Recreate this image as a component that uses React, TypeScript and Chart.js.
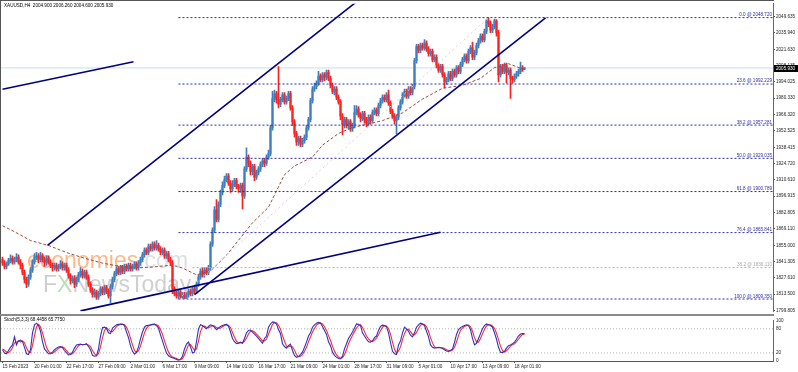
import React, { useEffect, useRef } from 'react';
import { Chart, registerables } from 'chart.js';
Chart.register(...registerables);

const FONT = "'Liberation Sans', Arial, sans-serif";

const title = 'XAUUSD,H4  2004.900 2006.260 2004.600 2005.930';
const stochTitle = 'Stoch(5,3,3) 68.4458 65.7750';

const opens = [
  1843,1840,1837,1839,1842,1844,1841,1843,1845,1841,
  1838,1832,1826,1822,1828,1834,1841,1845,1846,1843,
  1846,1843,1840,1844,1841,1838,1836,1838,1835,1837,
  1839,1836,1838,1834,1829,1825,1827,1822,1826,1830,
  1833,1829,1832,1828,1822,1817,1813,1815,1811,1814,
  1818,1815,1819,1816,1812,1820,1826,1831,1835,1832,
  1836,1833,1837,1835,1838,1835,1837,1839,1836,1840,
  1843,1847,1851,1849,1854,1852,1856,1853,1855,1852,
  1849,1851,1846,1848,1843,1840,1818,1814,1812,1815,
  1811,1813,1810,1813,1816,1814,1818,1816,1822,1828,
  1833,1830,1834,1832,1836,1856,1868,1885,1877,1890,
  1900,1906,1911,1914,1908,1903,1907,1910,1905,1903,
  1906,1897,1920,1930,1925,1918,1922,1913,1917,1920,
  1924,1927,1925,1930,1933,1955,1980,1984,1979,1975,
  1979,1983,1977,1980,1984,1972,1960,1950,1943,1946,
  1941,1944,1947,1955,1962,1978,1988,1990,1993,1999,
  1996,2000,1998,2002,1997,1991,1986,1988,1981,1977,
  1965,1958,1962,1957,1960,1954,1957,1968,1971,1966,
  1963,1967,1962,1959,1964,1961,1968,1970,1967,1974,
  1978,1981,1979,1983,1976,1969,1965,1961,1964,1972,
  1977,1983,1986,1982,1988,1985,1990,2012,2024,2021,
  2025,2023,2027,2022,2018,2020,2013,2015,2008,2004,
  2007,2000,1994,1996,2001,1997,2003,2000,2006,2003,
  2009,2013,2016,2012,2020,2023,2015,2019,2025,2029,
  2033,2030,2037,2046,2044,2038,2041,2046,2036,2000,
  2007,2003,2008,2002,2004,1997,1996,1999,2001,2003,
  2006,2004.9
];
const highs = [
  1845,1842,1841,1844,1847,1846,1845,1848,1847,1843,
  1840,1834,1828,1830,1836,1843,1848,1849,1848,1849,
  1848,1845,1846,1846,1843,1840,1840,1840,1839,1842,
  1841,1840,1840,1836,1831,1829,1829,1828,1832,1836,
  1835,1834,1834,1830,1824,1819,1818,1817,1816,1820,
  1820,1821,1821,1818,1822,1828,1833,1837,1837,1838,
  1838,1839,1839,1840,1840,1839,1841,1841,1842,1845,
  1849,1853,1853,1856,1856,1858,1858,1859,1857,1854,
  1853,1853,1850,1850,1845,1842,1820,1816,1817,1817,
  1815,1815,1815,1818,1818,1820,1820,1824,1830,1835,
  1836,1836,1836,1838,1858,1870,1888,1894,1892,1902,
  1909,1914,1916,1916,1910,1910,1912,1912,1907,1908,
  1908,1922,1938,1932,1927,1924,1924,1919,1922,1926,
  1929,1929,1932,1936,1957,1986,1987,1986,2007,1981,
  1985,1985,1982,1986,1986,1974,1962,1952,1948,1948,
  1946,1949,1957,1964,1980,1990,1993,1995,2003,2001,
  2002,2002,2004,2004,1999,1993,1990,1990,1983,1979,
  1967,1964,1964,1962,1962,1959,1974,1974,1973,1968,
  1969,1969,1964,1966,1966,1970,1972,1972,1976,1980,
  1983,1983,1985,1987,1978,1971,1967,1966,1974,1979,
  1985,1988,1988,1990,1990,1992,2014,2026,2026,2027,
  2027,2030,2029,2024,2022,2022,2017,2017,2010,2009,
  2009,2002,1998,2003,2003,2005,2005,2008,2008,2011,
  2015,2018,2018,2022,2025,2028,2021,2027,2031,2035,
  2035,2039,2047.5,2048.72,2046,2043,2047.5,2047,2038,2009,
  2009,2010,2010,2006,2006,1999,2001,2003,2005,2011,
  2008,2006.26
];
const lows = [
  1838,1835,1835,1838,1840,1839,1839,1841,1839,1835,
  1830,1823,1819,1820,1826,1832,1839,1843,1840,1841,
  1841,1837,1838,1839,1836,1833,1834,1833,1833,1835,
  1834,1834,1832,1827,1822,1823,1819,1820,1824,1828,
  1827,1827,1826,1820,1815,1811,1811,1809,1809,1812,
  1813,1813,1814,1810,1806,1818,1824,1829,1830,1830,
  1831,1831,1833,1833,1833,1833,1835,1834,1834,1838,
  1841,1845,1847,1847,1850,1850,1851,1851,1850,1847,
  1847,1844,1844,1841,1838,1814,1812,1810,1809.35,1810,
  1810,1809.8,1810,1811,1812,1812,1814,1814,1820,1826,
  1828,1828,1830,1830,1834,1854,1866,1875,1875,1888,
  1898,1904,1909,1906,1900,1901,1905,1903,1900,1900,
  1886,1895,1918,1922,1915,1915,1910,1911,1915,1918,
  1922,1922,1923,1928,1931,1953,1977,1976,1972,1973,
  1977,1975,1975,1978,1970,1957,1947,1940,1940,1939,
  1939,1942,1945,1953,1960,1976,1986,1988,1991,1994,
  1994,1995,1996,1995,1989,1984,1983,1979,1975,1962,
  1949,1955,1955,1954,1952,1952,1955,1966,1964,1960,
  1961,1959,1956,1957,1958,1959,1966,1965,1965,1972,
  1976,1977,1977,1974,1967,1963,1958,1950,1962,1970,
  1975,1981,1980,1980,1983,1983,1988,2010,2019,2019,
  2021,2021,2020,2016,2016,2011,2011,2006,2002,2002,
  1998,1989,1992,1994,1995,1995,1998,1998,2001,2001,
  2007,2011,2010,2010,2018,2013,2013,2017,2023,2027,
  2028,2028,2035,2041,2036,2036,2039,2033,1994,1998,
  2001,2001,1993,2000,1980,1993,1994,1997,1999,2001,
  2003,2004.6
];
const closes = [
  1840,1837,1839,1842,1844,1841,1843,1845,1841,1838,
  1832,1826,1822,1828,1834,1841,1845,1846,1843,1846,
  1843,1840,1844,1841,1838,1836,1838,1835,1837,1839,
  1836,1838,1834,1829,1825,1827,1822,1826,1830,1833,
  1829,1832,1828,1822,1817,1813,1815,1811,1814,1818,
  1815,1819,1816,1812,1820,1826,1831,1835,1832,1836,
  1833,1837,1835,1838,1835,1837,1839,1836,1840,1843,
  1847,1851,1849,1854,1852,1856,1853,1855,1852,1849,
  1851,1846,1848,1843,1840,1818,1814,1812,1815,1811,
  1813,1810,1813,1816,1814,1818,1816,1822,1828,1833,
  1830,1834,1832,1836,1856,1868,1885,1877,1890,1900,
  1906,1911,1914,1908,1903,1907,1910,1905,1903,1906,
  1897,1920,1930,1925,1918,1922,1913,1917,1920,1924,
  1927,1925,1930,1933,1955,1980,1984,1979,1975,1979,
  1983,1977,1980,1984,1972,1960,1950,1943,1946,1941,
  1944,1947,1955,1962,1978,1988,1990,1993,1999,1996,
  2000,1998,2002,1997,1991,1986,1988,1981,1977,1965,
  1958,1962,1957,1960,1954,1957,1968,1971,1966,1963,
  1967,1962,1959,1964,1961,1968,1970,1967,1974,1978,
  1981,1979,1983,1976,1969,1965,1961,1964,1972,1977,
  1983,1986,1982,1988,1985,1990,2012,2024,2021,2025,
  2023,2027,2022,2018,2020,2013,2015,2008,2004,2007,
  2000,1994,1996,2001,1997,2003,2000,2006,2003,2009,
  2013,2016,2012,2020,2023,2015,2019,2025,2029,2033,
  2030,2037,2046,2044,2038,2041,2046,2036,2000,2007,
  2003,2008,2002,2004,1997,1996,1999,2001,2003,2006,
  2004.9,2005.93
];

const stochK = [
  28,20,18,26,34,40,60,40,50,52,
  48,34,18,16,28,70,90,94,88,74,
  48,30,24,18,18,22,28,32,35,36,
  33,26,20,15,16,22,32,40,41,42,
  40,41,43,36,28,14,12,13,30,62,
  83,84,81,70,68,82,86,90,91,92,
  91,88,72,58,38,24,17,22,35,55,
  72,84,88,89,90,91,92,88,82,65,
  50,34,20,13,10,8,6,4,2,4,
  12,30,42,47,35,20,22,48,80,90,
  88,84,80,86,90,88,84,78,82,86,
  88,90,91,86,72,56,48,43,44,47,
  44,56,70,76,77,72,67,62,56,50,
  44,56,62,84,92,97,96,92,78,68,
  43,36,32,38,42,26,14,9,11,16,
  22,34,47,62,70,84,90,94,96,94,
  86,76,66,48,38,22,14,9,6,5,
  12,30,43,56,64,72,82,92,91,88,
  70,62,54,48,47,50,58,62,76,86,
  89,88,85,70,46,24,18,16,40,50,
  70,84,80,74,64,60,70,84,90,94,
  92,88,74,60,40,34,32,33,34,33,
  31,28,25,24,26,30,46,66,78,83,
  86,88,90,88,78,56,40,44,56,68,
  80,88,92,90,88,84,70,54,34,22,
  21,24,32,38,40,43,47,54,62,67,
  68,68.4458
];
const stochD = [
  30,27,22,21,26,33,45,47,50,47,
  50,45,33,23,21,38,63,85,91,85,
  70,51,34,24,20,19,23,27,32,34,
  35,32,26,20,17,18,23,31,38,41,
  41,41,41,40,36,26,18,13,18,35,
  58,76,83,78,73,73,79,86,89,91,
  91,90,84,73,56,40,26,21,25,37,
  54,70,81,87,89,90,91,90,87,78,
  66,50,35,22,14,10,8,6,4,3,
  6,15,28,40,41,34,26,30,50,73,
  86,87,84,83,85,88,87,83,81,82,
  85,88,90,89,83,71,59,49,45,45,
  45,49,57,67,74,75,72,67,62,56,
  50,50,54,67,79,91,95,95,89,79,
  63,49,37,35,37,35,27,16,11,12,
  16,24,34,48,60,72,81,89,93,95,
  92,85,76,63,51,36,25,15,10,7,
  8,16,28,43,54,64,73,82,88,90,
  83,73,62,55,50,48,52,57,65,75,
  84,88,87,81,67,47,29,19,25,35,
  53,68,78,79,73,66,65,71,81,89,
  92,91,85,74,58,45,35,33,33,33,
  33,31,28,26,25,27,34,47,63,76,
  82,86,88,89,85,74,58,47,47,56,
  68,79,87,90,90,87,81,69,53,37,
  26,22,26,31,37,40,43,48,54,61,
  66,65.775
];

const maBars = [0, 6, 14, 23, 33, 41, 50, 58, 66, 75, 80, 85, 90, 97, 104, 112, 125, 133, 141, 146, 155, 160, 168, 175, 190, 200, 210, 220, 230, 239, 246, 253, 257, 261];
const maValues = [1871.7, 1866.6, 1859.1, 1854.9, 1848.3, 1844.1, 1839.9, 1837.4, 1835.7, 1836.6, 1837.4, 1838.2, 1835.7, 1829.9, 1833.2, 1846.6, 1874.2, 1887.5, 1915.1, 1922.6, 1930.1, 1940.2, 1950.2, 1955.2, 1961.1, 1967.7, 1979.4, 1988.6, 1991.1, 1997.0, 2006.2, 2009.5, 2007.0, 2004.5];

const priceTicks = [2049.635, 2035.940, 2021.630, 2008.135, 1994.025, 1980.330, 1966.320, 1952.525, 1938.415, 1924.720, 1910.610, 1896.915, 1882.805, 1869.110, 1855.000, 1841.305, 1827.610, 1813.500, 1799.805];

const timeLabels = ['15 Feb 2023', '20 Feb 01:00', '22 Feb 17:00', '27 Feb 09:00', '2 Mar 01:00', '6 Mar 17:00', '9 Mar 09:00', '14 Mar 01:00', '16 Mar 17:00', '21 Mar 09:00', '24 Mar 01:00', '28 Mar 17:00', '31 Mar 09:00', '5 Apr 01:00', '10 Apr 17:00', '13 Apr 09:00', '18 Apr 01:00'];
const timeLabelBars = [0, 16, 32, 48, 64, 80, 96, 112, 128, 144, 160, 176, 192, 208, 224, 240, 256];

const fibNames = ['0.0', '23.6', '38.2', '50.0', '61.8', '76.4', '100.0'];
const fibLevels = [2048.72, 1992.229, 1957.281, 1929.035, 1900.789, 1865.841, 1809.35];
const fibStartBar = 88;
const fibEndBar = 243;
const greyFibName = '38.2';
const greyFibLevel = 1836.11;
const greyFibStartBar = 95;

// trend lines: [startBar, startPrice, endBar, endPrice]
const trendLines = [
  [0, 1987.8, 65.5, 2011.2],
  [22.5, 1854.9, 180, 2066.2],
  [96, 1813.2, 271.5, 2048.4],
  [39, 1799.3, 219, 1866.2],
];

const X_MIN = -0.75;
const X_MAX = 385.25;
const BULL = '#3f7dbf';
const BEAR = '#ff2020';
const FIB = '#2c2ca8';
const NAVY = '#000080';

const last = closes.length - 1;
const candleColor = (i: number) => (closes[i] >= opens[i] ? BULL : BEAR);

const lineDs = (data: any[], color: string, width: number, dash: number[], order: number) => ({
  type: 'line',
  data,
  borderColor: color,
  borderWidth: width,
  borderDash: dash,
  pointRadius: 0,
  fill: false,
  tension: 0,
  order,
});

const mainOverlay = {
  id: 'mainOverlay',
  beforeDatasetsDraw(chart: any) {
    const ctx = chart.ctx;
    ctx.save();
    ctx.textBaseline = 'alphabetic';
    ctx.textAlign = 'left';
    ctx.font = `23px ${FONT}`;
    ctx.fillStyle = 'rgba(248,162,100,0.75)';
    ctx.fillText('economies', 27, 268);
    const w = ctx.measureText('economies').width;
    ctx.fillStyle = 'rgba(200,200,200,0.6)';
    ctx.fillText('.com', 27 + w, 268);
    let x = 43;
    ctx.fillStyle = 'rgba(175,175,175,0.6)';
    ctx.fillText('F', x, 292);
    x += ctx.measureText('F').width;
    ctx.fillStyle = 'rgba(130,195,130,0.55)';
    ctx.fillText('X', x, 292);
    x += ctx.measureText('X').width;
    ctx.fillStyle = 'rgba(175,175,175,0.6)';
    ctx.fillText('NewsToday', x, 292);
    ctx.restore();
  },
  afterDraw(chart: any) {
    const { ctx, chartArea } = chart;
    const y = chart.scales.y;
    ctx.save();
    ctx.font = `4.6px ${FONT}`;
    ctx.textAlign = 'right';
    ctx.textBaseline = 'bottom';
    fibLevels.forEach((lv, k) => {
      ctx.fillStyle = FIB;
      ctx.fillText(`${fibNames[k]} @ ${lv.toFixed(3)}`, chartArea.right - 1, y.getPixelForValue(lv) - 0.5);
    });
    ctx.fillStyle = '#a8a8a8';
    ctx.fillText(`${greyFibName} @ ${greyFibLevel.toFixed(3)}`, chartArea.right - 1, y.getPixelForValue(greyFibLevel) - 0.5);
    ctx.textAlign = 'left';
    ctx.textBaseline = 'middle';
    ctx.fillStyle = '#000';
    ctx.fillText(title, 4, 5.5);
    const py = y.getPixelForValue(closes[last]);
    ctx.fillStyle = '#000';
    ctx.fillRect(chartArea.right + 1, Math.round(py) - 3, 798 - chartArea.right - 1, 7);
    ctx.fillStyle = '#fff';
    ctx.fillText(closes[last].toFixed(3), chartArea.right + 3, Math.round(py) + 0.5);
    ctx.restore();
  },
};

const stochOverlay = {
  id: 'stochOverlay',
  afterDraw(chart: any) {
    const ctx = chart.ctx;
    ctx.save();
    ctx.font = `4.6px ${FONT}`;
    ctx.textAlign = 'left';
    ctx.textBaseline = 'middle';
    ctx.fillStyle = '#000';
    ctx.fillText(stochTitle, 4, 5);
    ctx.restore();
  },
};

function mainConfig(): any {
  const datasets: any[] = [];
  trendLines.forEach((t) => {
    datasets.push(lineDs([{ x: t[0], y: t[1] }, { x: t[2], y: t[3] }], NAVY, 1.6, [], 0));
  });
  fibLevels.forEach((lv) => {
    datasets.push(lineDs([{ x: fibStartBar, y: lv }, { x: X_MAX, y: lv }], FIB, 1, [2, 2], 1));
  });
  datasets.push(lineDs([{ x: greyFibStartBar, y: greyFibLevel }, { x: X_MAX, y: greyFibLevel }], '#b8b8b8', 1, [2, 2], 1));
  datasets.push(lineDs([{ x: fibStartBar, y: fibLevels[6] }, { x: fibEndBar, y: fibLevels[0] }], '#d4d4d4', 1, [2, 3], 1));
  datasets.push(lineDs(maBars.map((b, i) => ({ x: b, y: maValues[i] })), '#9a4a3c', 1, [3, 2], 2));
  datasets.push({
    type: 'bar',
    data: closes.map((c, i) => ({ x: i, y: [lows[i], highs[i]] })),
    backgroundColor: (c: any) => candleColor(c.dataIndex),
    barThickness: 1,
    grouped: false,
    order: 3,
  });
  datasets.push({
    type: 'bar',
    data: closes.map((c, i) => ({ x: i, y: [opens[i], c] })),
    backgroundColor: (c: any) => candleColor(c.dataIndex),
    barThickness: 1.5,
    minBarLength: 1,
    grouped: false,
    order: 3,
  });
  datasets.push(lineDs([{ x: X_MIN, y: closes[last] }, { x: X_MAX, y: closes[last] }], '#c2e0ea', 1, [], 5));

  return {
    type: 'bar',
    data: { datasets },
    options: {
      animation: false,
      responsive: false,
      devicePixelRatio: 1,
      events: [],
      layout: { padding: { left: 1, top: 1, right: 0, bottom: 1 } },
      plugins: { legend: { display: false }, tooltip: { enabled: false } },
      scales: {
        x: { type: 'linear', min: X_MIN, max: X_MAX, display: false, offset: false, grid: { offset: false } },
        y: {
          type: 'linear',
          position: 'right',
          min: 1798.97,
          max: 2060.5,
          afterBuildTicks: (s: any) => {
            s.ticks = priceTicks.map((v) => ({ value: v }));
          },
          afterFit: (s: any) => {
            s.width = 25;
          },
          grid: { drawOnChartArea: false, drawTicks: true, tickLength: 2, color: '#555' },
          border: { display: true, color: '#666', width: 1 },
          ticks: {
            autoSkip: false,
            padding: 1,
            color: '#222',
            font: { family: FONT, size: 4.6 },
            callback: (v: any) => Number(v).toFixed(3),
          },
        },
      },
    },
    plugins: [mainOverlay],
  };
}

function stochConfig(): any {
  const idx = stochK.map((_, i) => i);
  return {
    type: 'line',
    data: {
      datasets: [
        lineDs([{ x: X_MIN, y: 80 }, { x: X_MAX, y: 80 }], '#b0b0b0', 1, [1, 2], 3),
        lineDs([{ x: X_MIN, y: 20 }, { x: X_MAX, y: 20 }], '#b0b0b0', 1, [1, 2], 3),
        lineDs(idx.map((i) => ({ x: i, y: stochD[i] })), '#ff2a2a', 1.1, [], 1),
        lineDs(idx.map((i) => ({ x: i, y: stochK[i] })), '#2f2fc8', 1.1, [], 0),
      ],
    },
    options: {
      animation: false,
      responsive: false,
      devicePixelRatio: 1,
      events: [],
      layout: { padding: { left: 1, top: 1, right: 0, bottom: 0 } },
      plugins: { legend: { display: false }, tooltip: { enabled: false } },
      scales: {
        x: {
          type: 'linear',
          min: X_MIN,
          max: X_MAX,
          position: 'bottom',
          offset: false,
          afterBuildTicks: (s: any) => {
            s.ticks = timeLabelBars.map((v) => ({ value: v }));
          },
          afterFit: (s: any) => {
            s.height = 11;
          },
          grid: { drawOnChartArea: false, drawTicks: true, tickLength: 2, color: '#555' },
          border: { display: true, color: '#555', width: 1 },
          ticks: {
            autoSkip: false,
            maxRotation: 0,
            minRotation: 0,
            align: 'start',
            padding: 1,
            color: '#222',
            font: { family: FONT, size: 4.6 },
            callback: (_v: any, i: number) => timeLabels[i],
          },
        },
        y: {
          type: 'linear',
          position: 'right',
          min: 0,
          max: 100,
          afterBuildTicks: (s: any) => {
            s.ticks = [100, 80, 20, 0].map((v) => ({ value: v }));
          },
          afterFit: (s: any) => {
            s.width = 25;
          },
          grid: { drawOnChartArea: false, drawTicks: false },
          border: { display: true, color: '#666', width: 1 },
          ticks: {
            autoSkip: false,
            padding: 3,
            color: '#222',
            font: { family: FONT, size: 4.6 },
            callback: (v: any) => String(v),
          },
        },
      },
    },
    plugins: [stochOverlay],
  };
}

export default function App() {
  const mainRef = useRef<HTMLCanvasElement>(null);
  const stochRef = useRef<HTMLCanvasElement>(null);
  useEffect(() => {
    const m = new Chart(mainRef.current as HTMLCanvasElement, mainConfig());
    const s = new Chart(stochRef.current as HTMLCanvasElement, stochConfig());
    return () => {
      m.destroy();
      s.destroy();
    };
  }, []);
  return (
    <div style={{ position: 'fixed', left: 0, top: 0, width: 798, height: 372, background: '#fff', overflow: 'hidden' }}>
      <canvas ref={mainRef} width={798} height={315} style={{ position: 'absolute', left: 0, top: 0, width: 798, height: 315 }} />
      <canvas ref={stochRef} width={798} height={57} style={{ position: 'absolute', left: 0, top: 315, width: 798, height: 57 }} />
      <div style={{ position: 'absolute', left: 0, top: 0, width: 774, height: 1, background: '#555' }} />
      <div style={{ position: 'absolute', left: 0, top: 0, width: 1, height: 362, background: '#555' }} />
      <div style={{ position: 'absolute', left: 0, top: 314, width: 774, height: 2, background: '#8a8a8a' }} />
    </div>
  );
}
